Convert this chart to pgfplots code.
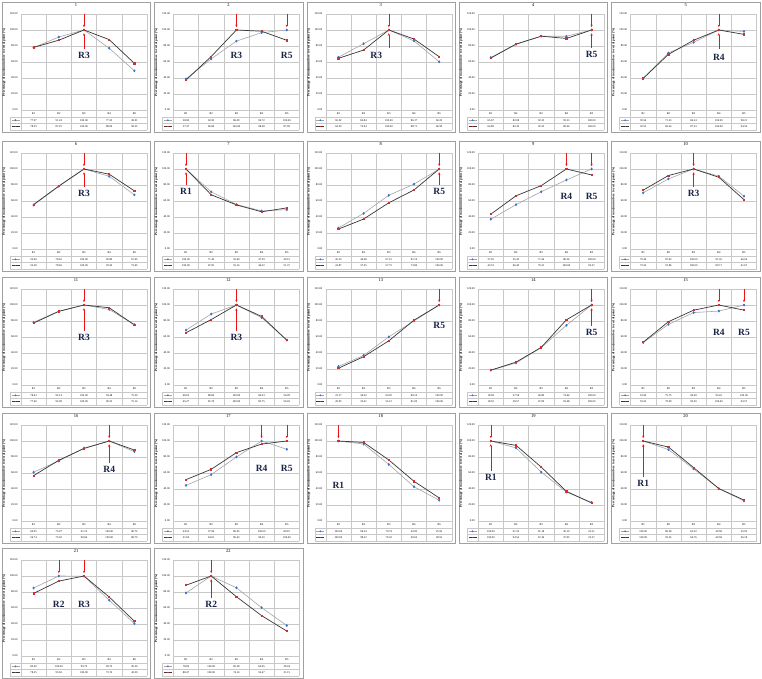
\documentclass[border=0pt]{standalone}
\usepackage{fontspec}
\setmainfont{Liberation Serif}
\usepackage{pgfplots}
\pgfplotsset{compat=1.18}
\usepackage{pgfplotstable}
\usetikzlibrary{arrows.meta}

\definecolor{lineA}{RGB}{165,165,165}
\definecolor{lineB}{RGB}{55,55,55}
\definecolor{markA}{RGB}{60,110,205}
\definecolor{markB}{RGB}{215,45,45}
\definecolor{labc}{RGB}{25,35,70}
\definecolor{framec}{RGB}{160,160,160}
\definecolor{gridc}{RGB}{200,200,200}
\definecolor{arrc}{RGB}{235,20,20}

% R1..R5 for the 22 panels: a = blue series, b = red series
\pgfplotstableread{
x a1 b1 a2 b2 a3 b3 a4 b4 a5 b5 a6 b6 a7 b7 a8 b8 a9 b9 a10 b10 a11 b11 a12 b12 a13 b13 a14 b14 a15 b15 a16 b16 a17 b17 a18 b18 a19 b19 a20 b20 a21 b21 a22 b22
1 77.97 78.25 38.80 37.47 65.92 64.59 65.67 64.89 39.54 39.52 55.00 55.58 100.00 100.00 26.23 24.87 37.20 43.53 70.26 73.54 78.43 77.40 68.65 65.27 23.17 20.95 18.58 18.52 53.00 53.55 60.95 56.74 44.55 51.69 100.00 100.00 100.00 100.00 100.00 100.00 85.00 78.25 78.85 88.47
2 91.24 87.25 63.93 66.84 82.84 74.94 82.08 82.39 71.23 69.54 78.42 78.65 71.45 67.81 44.48 37.45 55.45 66.49 87.63 91.86 92.14 92.09 88.69 81.79 36.92 35.41 27.58 28.57 75.75 79.09 75.07 75.92 57.96 64.61 96.24 98.22 91.35 94.54 89.28 92.45 100.00 93.63 100.00 100.00
3 100.00 100.00 86.09 100.00 100.00 100.00 92.23 92.25 84.54 87.23 100.00 100.00 55.60 55.14 67.15 57.75 71.56 79.21 100.00 100.00 100.00 100.00 100.00 100.00 60.20 55.21 46.80 47.00 90.49 93.50 91.19 90.66 80.05 85.43 70.74 76.32 61.18 67.44 65.22 66.76 99.79 100.00 85.28 74.14
4 77.23 88.00 96.72 98.48 86.37 88.71 92.23 89.44 100.00 100.00 90.89 93.50 47.59 46.52 81.10 73.80 86.26 100.00 91.05 89.71 94.48 96.55 84.23 85.75 80.10 81.05 74.64 81.48 92.42 100.00 100.00 100.00 100.00 96.20 42.83 49.62 36.19 37.05 40.58 40.58 69.75 73.74 60.45 50.47
5 49.01 58.25 100.00 87.09 60.25 66.59 100.00 100.00 98.21 94.54 67.65 72.65 49.15 51.37 100.00 100.00 100.00 92.57 66.04 61.67 75.39 75.14 56.09 56.02 100.00 100.00 100.00 100.00 100.00 93.57 86.72 88.70 89.67 100.00 25.95 28.91 23.31 22.57 25.03 26.18 40.50 43.50 38.04 31.15
}\data

\pgfplotsset{panel/.style={
  scale only axis, width=126pt, height=96pt, anchor=south west,
  xmin=0.5, xmax=5.5, ymin=0, ymax=120,
  xtick={1.5,2.5,3.5,4.5}, xticklabels={},
  ytick={0,20,...,120},
  xmajorgrids, ymajorgrids,
  grid style={draw=gridc, line width=0.35pt},
  axis line style={draw=gridc, line width=0.35pt},
  major tick length=0pt,
  yticklabel style={font=\fontsize{2.8}{3}\selectfont,
    /pgf/number format/fixed, /pgf/number format/fixed zerofill,
    /pgf/number format/precision=2, /pgf/number format/assume math mode=true},
  ylabel={Percentage of maximum dose to rectal point (\%)},
  ylabel style={font=\bfseries\fontsize{3.3}{3.5}\selectfont,
    at={(axis description cs:-0.135,0.5)}, anchor=center},
  title style={font=\fontsize{4.5}{5}\selectfont,
    at={(axis description cs:0.437,1)}, anchor=south, yshift=1.5pt, inner sep=0pt},
  clip=false,
}}
\tikzset{
  arr/.style={draw=arrc, line width=0.55pt, -{Stealth[length=2.6pt,width=2.2pt]}},
  tabline/.style={draw=gridc, line width=0.35pt},
  tabfont/.style={font=\fontsize{2.8}{3}\selectfont, inner sep=0pt},
}
\newcommand{\arrdown}[1]{\draw[arr] (axis cs:#1,120.5) -- (axis cs:#1,103.5);}
\newcommand{\arrup}[2]{\draw[arr] (axis cs:#1,#2) -- (axis cs:#1,96);}
\newcommand{\rlab}[3]{\node[font=\bfseries\fontsize{9.5}{10}\selectfont, text=labc, inner sep=0pt] at (axis cs:#1,#2) {#3};}

% #1 column, #2 zero line (px from top), #3 panel number, #4 annotations
\newcommand{\panel}[4]{%
  \draw[framec, line width=0.5pt] (#1*152.4+2,-#2+108) rectangle (#1*152.4+150.4,-#2-22);
  \begin{axis}[panel, at={(#1*152.4pt+21pt,-#2pt)}, title={#3}]
    \addplot[lineA, line width=0.6pt, mark=diamond*, mark size=1pt,
      mark options={fill=markA, draw=markA}] table[x=x, y=a#3] {\data};
    \addplot[lineB, line width=0.7pt, mark=square*, mark size=0.6pt,
      mark options={fill=markB, draw=markB}] table[x=x, y=b#3] {\data};
    #4
  \end{axis}
  \begin{scope}[shift={(#1*152.4+21,-#2)}]
    \draw[tabline] (-11,-7) -- (126,-7) (-11,-13.5) -- (126,-13.5)
      (-11,-20) -- (126,-20) (-11,-7) -- (-11,-20) (0,0) -- (0,-20) (126,0) -- (126,-20);
    \foreach \k in {1,...,4} \draw[tabline] (25.2*\k,0) -- (25.2*\k,-20);
    \draw[lineA, line width=0.5pt] (-9.5,-10.25) -- (-1.5,-10.25);
    \fill[markA] (-5.5,-9.25) -- (-4.5,-10.25) -- (-5.5,-11.25) -- (-6.5,-10.25) -- cycle;
    \draw[lineB, line width=0.6pt] (-9.5,-16.75) -- (-1.5,-16.75);
    \fill[markB] (-6.1,-17.35) rectangle (-4.9,-16.15);
    \foreach \k in {1,...,5} {
      \pgfmathtruncatemacro\r{\k-1}
      \node[tabfont] at (25.2*\k-12.6,-3.5) {R\k};
      \pgfplotstablegetelem{\r}{a#3}\of\data
      \node[tabfont] at (25.2*\k-12.6,-10.25)
        {\pgfmathprintnumber[fixed,fixed zerofill,precision=2,assume math mode=true]{\pgfplotsretval}};
      \pgfplotstablegetelem{\r}{b#3}\of\data
      \node[tabfont] at (25.2*\k-12.6,-16.75)
        {\pgfmathprintnumber[fixed,fixed zerofill,precision=2,assume math mode=true]{\pgfplotsretval}};
    }
  \end{scope}
}

\begin{document}
\begin{tikzpicture}[x=1pt, y=1pt]
\useasboundingbox (0,0) rectangle (762,-679);
\fill[white] (0,0) rectangle (762,-679);

\panel{0}{110}{1}{\arrdown{3}\arrup{3}{76}\rlab{3}{68}{R3}}
\panel{1}{110}{2}{\arrdown{3}\arrdown{5}\rlab{3}{68}{R3}\rlab{5}{68}{R5}}
\panel{2}{110}{3}{\arrdown{3}\arrup{3}{78}\rlab{2.5}{68}{R3}}
\panel{3}{110}{4}{\arrdown{5}\arrup{5}{78}\rlab{5}{69}{R5}}
\panel{4}{110}{5}{\arrdown{4}\arrup{4}{76}\rlab{4}{66}{R4}}

\panel{0}{249}{6}{\arrdown{3}\arrup{3}{78}\rlab{3}{70}{R3}}
\panel{1}{249}{7}{\arrdown{1}\arrup{1}{80}\rlab{1}{72}{R1}}
\panel{2}{249}{8}{\arrdown{5}\arrup{5}{80}\rlab{5}{72}{R5}}
\panel{3}{249}{9}{\arrdown{4}\arrdown{5}\rlab{4}{66}{R4}\rlab{5}{66}{R5}}
\panel{4}{249}{10}{\arrdown{3}\arrup{3}{78}\rlab{3}{70}{R3}}

\panel{0}{385}{11}{\arrdown{3}\arrup{3}{68}\rlab{3}{60}{R3}}
\panel{1}{385}{12}{\arrdown{3}\arrup{3}{68}\rlab{3}{60}{R3}}
\panel{2}{385}{13}{\arrdown{5}\rlab{5}{75}{R5}}
\panel{3}{385}{14}{\arrdown{5}\arrup{5}{74}\rlab{5}{66}{R5}}
\panel{4}{385}{15}{\arrdown{4}\arrdown{5}\rlab{4}{66}{R4}\rlab{5}{66}{R5}}

\panel{0}{521}{16}{\arrdown{4}\arrup{4}{72}\rlab{4}{64}{R4}}
\panel{1}{521}{17}{\arrdown{4}\arrdown{5}\rlab{4}{66}{R4}\rlab{5}{66}{R5}}
\panel{2}{521}{18}{\arrdown{1}\rlab{1}{44}{R1}}
\panel{3}{521}{19}{\arrdown{1}\arrup{1}{62}\rlab{1}{54}{R1}}
\panel{4}{521}{20}{\arrdown{1}\arrup{1}{55}\rlab{1}{47}{R1}}

\panel{0}{656}{21}{\arrdown{2}\arrdown{3}\rlab{2}{64}{R2}\rlab{3}{64}{R3}}
\panel{1}{656}{22}{\arrdown{2}\arrup{2}{72}\rlab{2}{64}{R2}}
\end{tikzpicture}
\end{document}
